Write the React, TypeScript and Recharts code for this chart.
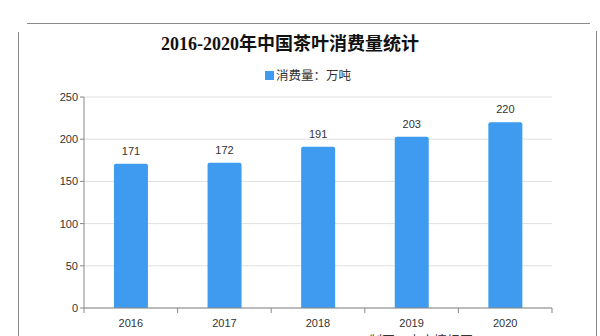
import React from "react";
import { BarChart, Bar, XAxis, YAxis, CartesianGrid, LabelList } from "recharts";

const years = ["2016", "2017", "2018", "2019", "2020"];
const consumption = [171, 172, 191, 203, 220];
const yTicks = [0, 50, 100, 150, 200, 250];
const titleText = "2016-2020年中国茶叶消费量统计";
const seriesName = "消费量：万吨";
const sourceText = "制图：中商情报网";

const data = years.map((y, i) => ({ year: y, value: consumption[i] }));

const W = 600;
const H = 336;
const BAR_COLOR = "#3f9bf0";

const XTick = (props: any) => {
  const { x, y, payload, index, visibleTicksCount, width } = props;
  const count = visibleTicksCount || years.length;
  const band = (width || 468) / count;
  const axisY = y - 8;
  return (
    <g>
      <line x1={x - band / 2} y1={axisY} x2={x - band / 2} y2={axisY + 5} stroke="#888" />
      {index === count - 1 && (
        <line x1={x + band / 2} y1={axisY} x2={x + band / 2} y2={axisY + 5} stroke="#888" />
      )}
      <text x={x} y={axisY + 19} textAnchor="middle" fontSize={11} fill="#333" fontFamily="'Liberation Sans', Arial, sans-serif">
        {payload.value}
      </text>
    </g>
  );
};

export default function App() {
  return (
    <div style={{ position: "absolute", left: 0, top: 0, width: W, height: H, background: "#fff", overflow: "hidden" }}>
      <BarChart width={W} height={H} data={data} margin={{ top: 97, right: 48, left: 44, bottom: 8 }} barCategoryGap="32%">
        <CartesianGrid vertical={false} stroke="#e0e0e0" />
        <XAxis dataKey="year" axisLine={{ stroke: "#888" }} tickLine={false} tick={<XTick />} height={20} interval={0} />
        <YAxis
          domain={[0, 250]}
          ticks={yTicks}
          width={40}
          axisLine={{ stroke: "#888" }}
          tickLine={{ stroke: "#888" }}
          tickSize={4}
          tick={{ fontSize: 11, fill: "#333", fontFamily: "'Liberation Sans', Arial, sans-serif" }}
          interval={0}
        />
        <Bar dataKey="value" name={seriesName} fill={BAR_COLOR} radius={[2, 2, 0, 0]} isAnimationActive={false}>
          <LabelList dataKey="value" position="top" offset={9} fontSize={11} fill="#333" fontFamily="'Liberation Sans', Arial, sans-serif" />
        </Bar>
      </BarChart>
      <svg width={W} height={H} style={{ position: "absolute", left: 0, top: 0, pointerEvents: "none" }}>
        <line x1={27} y1={23.5} x2={590} y2={23.5} stroke="#8a8a8a" strokeWidth={1} />
        <line x1={18.5} y1={32} x2={18.5} y2={H} stroke="#8a8a8a" strokeWidth={1} />
        <line x1={596.5} y1={31} x2={596.5} y2={H} stroke="#8a8a8a" strokeWidth={1} />
        <text x={290} y={50} textAnchor="middle" fontSize={18} fontWeight="bold" fill="#111" fontFamily="'Liberation Serif', 'Noto Sans CJK SC', serif">
          {titleText}
        </text>
        <rect x={265} y={71} width={9} height={9} fill={BAR_COLOR} />
        <text x={276} y={80} fontSize={12.5} fill="#333" fontFamily="'Noto Sans CJK SC', sans-serif">
          {seriesName}
        </text>
        <text x={369} y={345} fontSize={13} fill="#333" fontFamily="'Noto Sans CJK SC', sans-serif">
          {sourceText}
        </text>
      </svg>
    </div>
  );
}
